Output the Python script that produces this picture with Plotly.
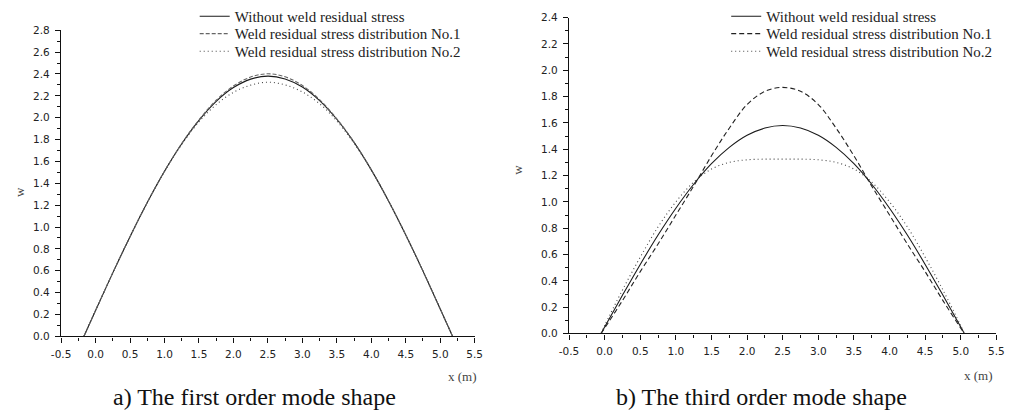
import plotly.graph_objects as go

# ---------------- data ----------------
# (a) first order mode shape
x_a = [-0.17, 0.0, 0.25, 0.5, 0.75, 1.0, 1.25, 1.5, 1.75, 2.0, 2.25, 2.5,
       2.75, 3.0, 3.25, 3.5, 3.75, 4.0, 4.25, 4.5, 4.75, 5.0, 5.18]
w_a_none = [0.0, 0.237, 0.581, 0.912, 1.224, 1.510, 1.762, 1.976, 2.150, 2.276, 2.353, 2.380,
            2.355, 2.281, 2.157, 1.986, 1.774, 1.523, 1.239, 0.928, 0.597, 0.251, 0.0]
w_a_no1 = [0.0, 0.237, 0.581, 0.912, 1.224, 1.510, 1.764, 1.980, 2.160, 2.290, 2.372, 2.402,
           2.374, 2.295, 2.165, 1.990, 1.776, 1.523, 1.239, 0.928, 0.597, 0.251, 0.0]
w_a_no2 = [0.0, 0.237, 0.581, 0.912, 1.224, 1.508, 1.755, 1.962, 2.120, 2.232, 2.298, 2.325,
           2.300, 2.236, 2.128, 1.970, 1.766, 1.520, 1.239, 0.928, 0.597, 0.251, 0.0]

# (b) third order mode shape
x_b = [-0.05, 0.0, 0.25, 0.5, 0.75, 1.0, 1.25, 1.5, 1.75, 2.0, 2.25, 2.5,
       2.75, 3.0, 3.25, 3.5, 3.75, 4.0, 4.25, 4.5, 4.75, 5.0, 5.05]
w_b_none = [0.0, 0.049, 0.290, 0.525, 0.748, 0.952, 1.134, 1.290, 1.414, 1.506, 1.561, 1.580,
            1.561, 1.506, 1.414, 1.290, 1.134, 0.952, 0.748, 0.525, 0.290, 0.049, 0.0]
w_b_no1 = [0.0, 0.040, 0.250, 0.470, 0.680, 0.900, 1.120, 1.350, 1.560, 1.740, 1.840, 1.870,
           1.840, 1.740, 1.560, 1.350, 1.120, 0.900, 0.680, 0.470, 0.250, 0.040, 0.0]
w_b_no2 = [0.0, 0.060, 0.330, 0.580, 0.810, 1.000, 1.150, 1.250, 1.300, 1.320, 1.325, 1.325,
           1.325, 1.320, 1.300, 1.250, 1.150, 1.000, 0.810, 0.580, 0.330, 0.060, 0.0]

series_names = ["Without weld residual stress",
                "Weld residual stress distribution No.1",
                "Weld residual stress distribution No.2"]

x_tick_vals = [-0.5, 0.0, 0.5, 1.0, 1.5, 2.0, 2.5, 3.0, 3.5, 4.0, 4.5, 5.0, 5.5]
x_tick_text = ["-0.5", "0.0", "0.5", "1.0", "1.5", "2.0", "2.5", "3.0", "3.5",
               "4.0", "4.5", "5.0", "5.5"]
y_tick_vals_a = [0.0, 0.2, 0.4, 0.6, 0.8, 1.0, 1.2, 1.4, 1.6, 1.8, 2.0, 2.2, 2.4, 2.6, 2.8]
y_tick_text_a = ["0.0", "0.2", "0.4", "0.6", "0.8", "1.0", "1.2", "1.4", "1.6", "1.8",
                 "2.0", "2.2", "2.4", "2.6", "2.8"]
y_tick_vals_b = [0.0, 0.2, 0.4, 0.6, 0.8, 1.0, 1.2, 1.4, 1.6, 1.8, 2.0, 2.2, 2.4]
y_tick_text_b = ["0.0", "0.2", "0.4", "0.6", "0.8", "1.0", "1.2", "1.4", "1.6", "1.8",
                 "2.0", "2.2", "2.4"]

captions = ["a) The first order mode shape", "b) The third order mode shape"]

# ---------------- figure ----------------
W, H = 1026, 417
fig = go.Figure()

styles_a = [dict(color="#1a1a1a", width=1.1, dash="solid"),
            dict(color="#666666", width=1.1, dash="4px,2px"),
            dict(color="#444444", width=1.1, dash="1px,3px")]
styles_b = [dict(color="#1a1a1a", width=1.1, dash="solid"),
            dict(color="#222222", width=1.1, dash="5px,3px"),
            dict(color="#444444", width=1.1, dash="1px,3px")]

legend_names_a = ["legend", "legend2", "legend3"]
legend_names_b = ["legend4", "legend5", "legend6"]

for name, ys, st, lg in zip(series_names, [w_a_none, w_a_no1, w_a_no2], styles_a, legend_names_a):
    fig.add_trace(go.Scatter(x=x_a, y=ys, mode="lines", name=name, line=dict(shape="spline", **st),
                             xaxis="x", yaxis="y", legend=lg))
for name, ys, st, lg in zip(series_names, [w_b_none, w_b_no1, w_b_no2], styles_b, legend_names_b):
    fig.add_trace(go.Scatter(x=x_b, y=ys, mode="lines", name=name, line=dict(shape="spline", **st),
                             xaxis="x2", yaxis="y2", legend=lg))

tickfont = dict(family="DejaVu Sans", size=10.5, color="#222222")
common_x = dict(range=[-0.5, 5.5], tickmode="array", tickvals=x_tick_vals, ticktext=x_tick_text,
                showline=True, linecolor="#111111", linewidth=1.4, ticks="outside",
                ticklen=5, tickwidth=1.2, tickcolor="#111111", showgrid=False, zeroline=False,
                tickfont=tickfont, fixedrange=True, ticklabelstandoff=3,
                minor=dict(dtick=0.25, tick0=-0.5, ticks="outside", ticklen=3, tickwidth=1,
                           tickcolor="#111111", showgrid=False))
common_y = dict(tickmode="array", showline=True, linecolor="#111111", linewidth=1.4,
                ticks="outside", ticklen=5, tickwidth=1.2, tickcolor="#111111",
                showgrid=False, zeroline=False, tickfont=tickfont, fixedrange=True,
                ticklabelstandoff=3,
                minor=dict(dtick=0.1, tick0=0, ticks="outside", ticklen=3, tickwidth=1,
                           tickcolor="#111111", showgrid=False))

def px_x(p):
    return p / W

def px_y(p):
    return 1 - p / H

legend_font = dict(family="Liberation Serif", size=15, color="#222222")
legend_rows = [9.5, 27.7, 46.0]
layout_legends = {}
for lg, row in zip(legend_names_a, legend_rows):
    layout_legends[lg] = dict(x=px_x(188), y=px_y(row), xanchor="left", yanchor="middle",
                              font=legend_font, bgcolor="rgba(0,0,0,0)", itemwidth=30)
for lg, row in zip(legend_names_b, legend_rows):
    layout_legends[lg] = dict(x=px_x(729), y=px_y(row), xanchor="left", yanchor="middle",
                              font=legend_font, bgcolor="rgba(0,0,0,0)", itemwidth=30)

fig.update_layout(
    width=W, height=H,
    margin=dict(l=0, r=0, t=0, b=0),
    paper_bgcolor="white", plot_bgcolor="white",
    xaxis=dict(domain=[px_x(52), px_x(473)], anchor="y", **common_x),
    yaxis=dict(domain=[px_y(340), px_y(24)], anchor="x", range=[0, 2.8],
               tickvals=y_tick_vals_a, ticktext=y_tick_text_a, **common_y),
    xaxis2=dict(domain=[px_x(569), px_x(1004)], anchor="y2", **common_x),
    yaxis2=dict(domain=[px_y(337), px_y(11)], anchor="x2", range=[0, 2.4],
                tickvals=y_tick_vals_b, ticktext=y_tick_text_b, **common_y),
    showlegend=True,
    **layout_legends,
)

annots = [
    dict(text="x (m)", x=px_x(461), y=px_y(381), font=dict(family="Liberation Serif", size=13, color="#444444")),
    dict(text="x (m)", x=px_x(986), y=px_y(380), font=dict(family="Liberation Serif", size=13, color="#444444")),
    dict(text="w", x=px_x(9), y=px_y(191), textangle=-90, font=dict(family="Liberation Serif", size=13, color="#444444")),
    dict(text="w", x=px_x(517), y=px_y(168), textangle=-90, font=dict(family="Liberation Serif", size=13, color="#444444")),
    dict(text=captions[0], x=px_x(249), y=px_y(403), font=dict(family="Liberation Serif", size=24, color="#111111")),
    dict(text=captions[1], x=px_x(765), y=px_y(403), font=dict(family="Liberation Serif", size=24, color="#111111")),
]
for a in annots:
    fig.add_annotation(xref="paper", yref="paper", showarrow=False, xanchor="center", yanchor="middle", **a)

fig.write_html("out.html")
